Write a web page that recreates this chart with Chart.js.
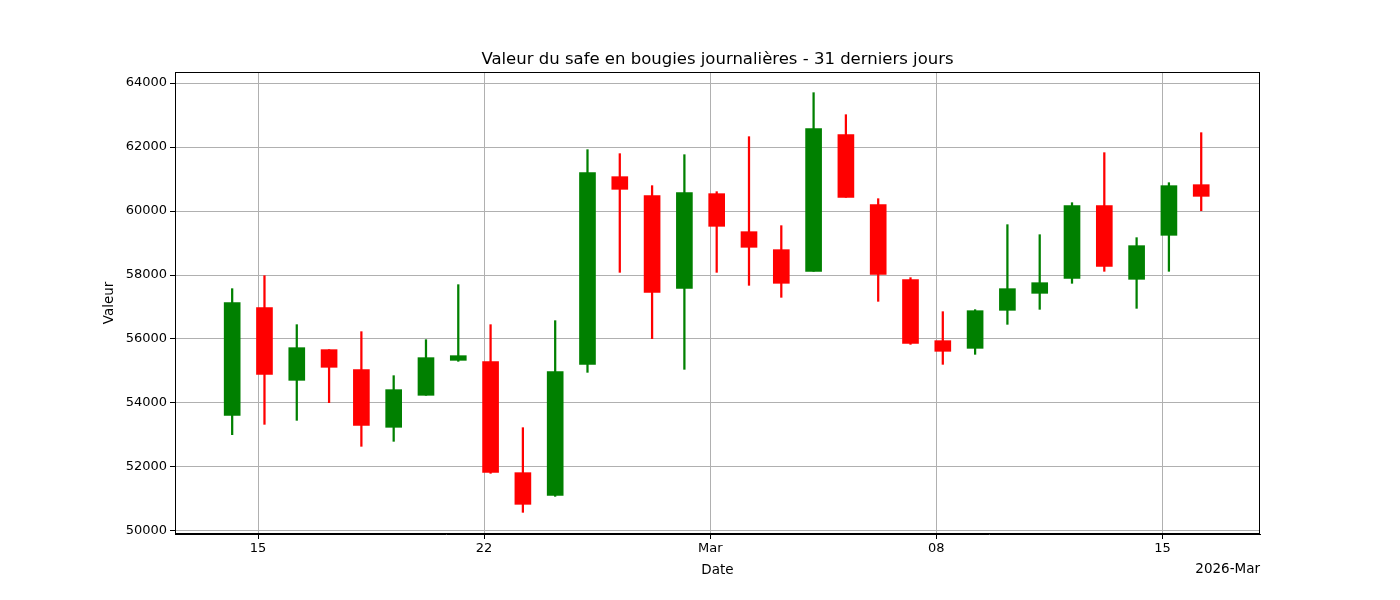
<!DOCTYPE html>
<html><head><meta charset="utf-8">
<script src="https://cdn.jsdelivr.net/npm/chart.js@4"></script>
<style>html,body{margin:0;padding:0;background:#fff}</style>
</head><body>
<canvas id="c" width="1400" height="600" style="width:1400px;height:600px"></canvas>
<script>
// day offsets from 2026-02-15 (candles Feb 14 .. Mar 16)
const days = [-1,0,1,2,3,4,5,6,7,8,9,10,11,12,13,14,15,16,17,18,19,20,21,22,23,24,25,26,27,28,29];
const openV  = [53614,56979,54708,55667,55042,53240,54240,55333,55292,51823,51115,55208,61073,60479,57583,60542,59354,58792,58115,62385,60198,57854,55948,55708,56896,57427,57896,60167,57865,59240,60823];
const closeV = [57135,54896,55729,55115,53302,54417,55417,55479,51833,50833,54979,61198,60677,57458,60573,59521,58865,57740,62573,60427,58021,55865,55615,56885,57573,57760,60167,58271,58917,60792,60458];
const highV  = [57573,57979,56448,55667,56229,54854,55979,57698,56448,53229,56573,61917,61792,60792,61760,60604,62323,59542,63698,63010,60385,57917,56854,56917,59573,59260,60260,61823,59167,60885,62448];
const lowV   = [53010,53333,53458,54010,52646,52802,54240,55302,51802,50583,51083,54958,58083,56010,55052,58083,57677,57302,58115,60427,57177,55833,55208,55521,56458,56927,57740,58115,56958,58115,60010];
const xTicks = [0,7,14,21,28];
const xTickLabels = ['15','22','Mar','08','15'];
const yTicks = [50000,52000,54000,56000,58000,60000,62000,64000];

const OFF = 0.2;
const cols = openV.map((o,i)=> closeV[i]>=o ? 'green' : 'red');
const bodies = days.map((d,i)=>({x:d+OFF, y:[openV[i],closeV[i]]}));
const wicks = days.map((d,i)=>({x:d+OFF, y:[lowV[i],highV[i]]}));
const F = 'DejaVu Sans';

const deco = {
  id:'deco',
  afterDraw(ch){
    const c=ch.ctx, a=ch.chartArea;
    c.save();
    c.strokeStyle='#000'; c.lineWidth=1;
    c.strokeRect(a.left+0.5,a.top+0.5,a.right-a.left-1,a.bottom-a.top-1);
    c.fillStyle='#000'; c.textBaseline='alphabetic';
    c.font='16.5px "'+F+'"'; c.textAlign='center';
    c.fillText('Valeur du safe en bougies journalières - 31 derniers jours',(a.left+a.right)/2,64);
    c.font='13.5px "'+F+'"';
    c.fillText('Date',(a.left+a.right)/2,574);
    c.textAlign='right';
    c.fillText('2026-Mar',a.right,573);
    c.translate(113,(a.top+a.bottom)/2); c.rotate(-Math.PI/2); c.textAlign='center';
    c.fillText('Valeur',0,0);
    c.restore();
  }
};

new Chart(document.getElementById('c'),{
  type:'bar',
  data:{datasets:[
    {data:wicks, backgroundColor:cols, barThickness:1.6, grouped:false, order:2},
    {data:bodies, backgroundColor:cols, barThickness:16, grouped:false, order:1}
  ]},
  options:{
    responsive:false, animation:false,
    layout:{padding:{left:0,right:140,top:72,bottom:0}},
    plugins:{legend:{display:false},title:{display:false},tooltip:{enabled:false}},
    scales:{
      x:{type:'linear', min:-2.57, max:31.02, offset:false,
        afterFit(s){s.height=66;},
        afterBuildTicks(s){s.ticks=xTicks.map(v=>({value:v}));},
        ticks:{autoSkip:false, maxRotation:0, color:'#000', font:{family:F,size:13}, padding:2,
          callback:(v)=>{const k=xTicks.indexOf(v);return k>=0?xTickLabels[k]:'';}},
        grid:{offset:false, color:'#b0b0b0', lineWidth:1, tickColor:'#000', tickLength:5},
        border:{display:true,color:'#000'}
      },
      y:{type:'linear', min:49906, max:64344,
        afterFit(s){s.width=175;},
        afterBuildTicks(s){s.ticks=yTicks.map(v=>({value:v}));},
        ticks:{color:'#000', font:{family:F,size:13}, padding:3, callback:v=>String(v)},
        grid:{color:'#b0b0b0', lineWidth:1, tickColor:'#000', tickLength:5},
        border:{display:true,color:'#000'}
      }
    }
  },
  plugins:[deco]
});
</script>
</body></html>
